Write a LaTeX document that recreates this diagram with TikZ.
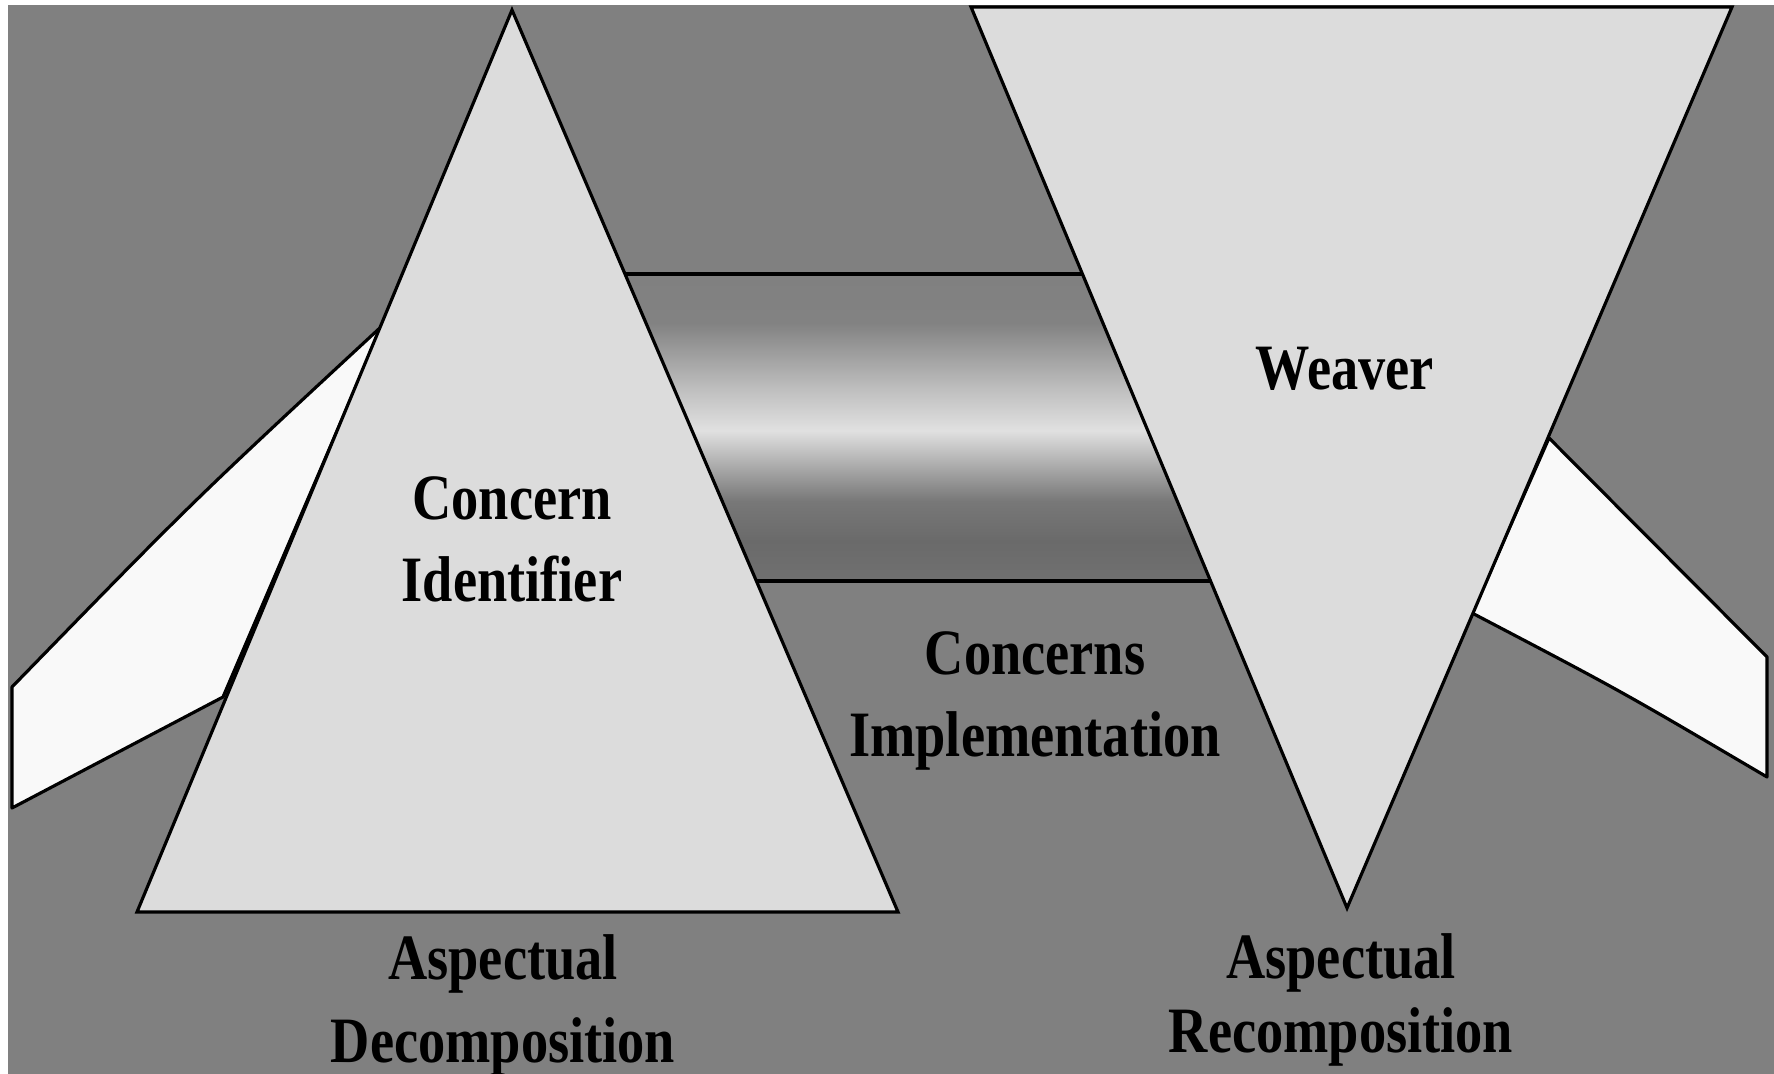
\documentclass[tikz,border=0pt]{standalone}
\usepackage{fontspec}
\newfontfamily\diagfont[FakeStretch=0.84]{Liberation Serif}
\definecolor{bggray}{gray}{0.502}
\definecolor{trifill}{gray}{0.863}
\definecolor{wingfill}{gray}{0.975}
\definecolor{bandA}{gray}{0.44}
\definecolor{bandB}{gray}{0.416}
\definecolor{bandC}{gray}{0.47}
\definecolor{bandD}{gray}{0.627}
\definecolor{bandE}{gray}{0.88}
\definecolor{bandF}{gray}{0.753}
\definecolor{bandG}{gray}{0.51}
\definecolor{bandH}{gray}{0.502}
\pgfdeclareverticalshading{bandshade}{100bp}{color(0bp)=(bandA); color(25bp)=(bandA); color(31.5bp)=(bandB); color(38bp)=(bandC); color(42.5bp)=(bandD); color(49.5bp)=(bandE); color(56bp)=(bandF); color(67bp)=(bandG); color(75bp)=(bandH); color(100bp)=(bandH)}
\begin{document}
\begin{tikzpicture}[
		x=0.01cm, y=-0.01cm,
		outline/.style={draw=black, line width=0.9pt},
		tri/.style={outline, fill=trifill},
		wing/.style={outline, fill=wingfill, line join=round},
		lbl/.style={font=\diagfont\bfseries\fontsize{18.4}{23.6}\selectfont, align=center, anchor=base, inner sep=0pt},
		]
		\useasboundingbox (0,0) rectangle (1774,1074);
		\fill[white] (0,0) rectangle (1774,1074);
		\fill[bggray] (8,5) rectangle (1774,1074);
		% corners
		\coordinate (ltop) at (512,10);
		\coordinate (lleft) at (137,912);
		\coordinate (lright) at (898,912);
		\coordinate (rleft) at (971,7);
		\coordinate (rright) at (1732,7);
		\coordinate (rbottom) at (1347,908);
		\coordinate (bandtl) at (626,274);
		\coordinate (bandtr) at (1083,274);
		\coordinate (bandbr) at (1210,581);
		\coordinate (bandbl) at (757,581);
		% wings
		\draw[wing] (382,326) .. controls (192,502) .. (12,687) -- (12,808) -- (223,697) -- cycle;
		\draw[wing] (1549,438) -- (1767,657) -- (1767,777) .. controls (1621,691) .. (1472,613) -- cycle;
		% band between the two
		\shade[shading=bandshade] (bandtl) -- (bandtr) -- (bandbr) -- (bandbl) -- cycle;
		\draw[outline] (bandtl) -- (bandtr);
		\draw[outline] (bandbl) -- (bandbr);
		% triangles
		\draw[tri] (ltop) -- (lright) -- (lleft) -- cycle;
		\draw[tri] (rleft) -- (rright) -- (rbottom) -- cycle;
		% labels (base = last line)
		\node[lbl] (concern) at (512,602) {Concern\\Identifier};
		\node[lbl] (weaver) at (1345,390) {Weaver};
		\node[lbl] (impl) at (1035,757) {Concerns\\Implementation};
		\node[lbl] (decomp) at (503,1062) {Aspectual\\Decomposition};
		\node[lbl] (recomp) at (1341,1052) {Aspectual\\[-2.7pt]Recomposition};
	\end{tikzpicture}
\end{document}
